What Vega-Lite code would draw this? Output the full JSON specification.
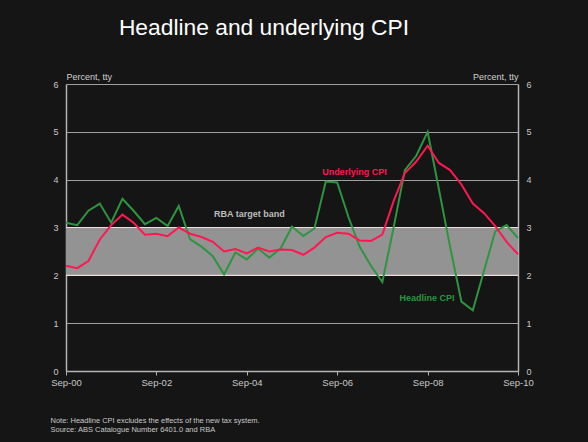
{
  "$schema": "https://vega.github.io/schema/vega-lite/v6.json",
  "autosize": {"type": "none"},
  "width": 452,
  "height": 287,
  "padding": {"left": 66, "top": 84, "right": 70, "bottom": 71},
  "background": "#151515",
  "config": {"view": {"stroke": null}, "font": "Liberation Sans"},
  "title": {"text": "Headline and underlying CPI", "color": "#ffffff", "fontSize": 22.8, "fontWeight": "normal", "font": "Liberation Sans", "anchor": "middle", "dx": -28, "offset": 32},
  "datasets": {
    "cpi": [
      {"d": "2000-09-01", "s": "Headline", "v": 3.1}, {"d": "2000-12-01", "s": "Headline", "v": 3.05},
      {"d": "2001-03-01", "s": "Headline", "v": 3.35}, {"d": "2001-06-01", "s": "Headline", "v": 3.5},
      {"d": "2001-09-01", "s": "Headline", "v": 3.1}, {"d": "2001-12-01", "s": "Headline", "v": 3.6},
      {"d": "2002-03-01", "s": "Headline", "v": 3.35}, {"d": "2002-06-01", "s": "Headline", "v": 3.07},
      {"d": "2002-09-01", "s": "Headline", "v": 3.2}, {"d": "2002-12-01", "s": "Headline", "v": 3.03},
      {"d": "2003-03-01", "s": "Headline", "v": 3.45}, {"d": "2003-06-01", "s": "Headline", "v": 2.75},
      {"d": "2003-09-01", "s": "Headline", "v": 2.6}, {"d": "2003-12-01", "s": "Headline", "v": 2.4},
      {"d": "2004-03-01", "s": "Headline", "v": 2.02}, {"d": "2004-06-01", "s": "Headline", "v": 2.48},
      {"d": "2004-09-01", "s": "Headline", "v": 2.33}, {"d": "2004-12-01", "s": "Headline", "v": 2.56},
      {"d": "2005-03-01", "s": "Headline", "v": 2.37}, {"d": "2005-06-01", "s": "Headline", "v": 2.56},
      {"d": "2005-09-01", "s": "Headline", "v": 3.02}, {"d": "2005-12-01", "s": "Headline", "v": 2.82},
      {"d": "2006-03-01", "s": "Headline", "v": 2.98}, {"d": "2006-06-01", "s": "Headline", "v": 3.96},
      {"d": "2006-09-01", "s": "Headline", "v": 3.94}, {"d": "2006-12-01", "s": "Headline", "v": 3.22},
      {"d": "2007-03-01", "s": "Headline", "v": 2.6}, {"d": "2007-06-01", "s": "Headline", "v": 2.2},
      {"d": "2007-09-01", "s": "Headline", "v": 1.86}, {"d": "2007-12-01", "s": "Headline", "v": 3.0},
      {"d": "2008-03-01", "s": "Headline", "v": 4.2}, {"d": "2008-06-01", "s": "Headline", "v": 4.5},
      {"d": "2008-09-01", "s": "Headline", "v": 5.0}, {"d": "2008-12-01", "s": "Headline", "v": 3.8},
      {"d": "2009-03-01", "s": "Headline", "v": 2.6}, {"d": "2009-06-01", "s": "Headline", "v": 1.45},
      {"d": "2009-09-01", "s": "Headline", "v": 1.27}, {"d": "2009-12-01", "s": "Headline", "v": 2.1},
      {"d": "2010-03-01", "s": "Headline", "v": 2.92}, {"d": "2010-06-01", "s": "Headline", "v": 3.05},
      {"d": "2010-09-01", "s": "Headline", "v": 2.78},
      {"d": "2000-09-01", "s": "Underlying", "v": 2.2}, {"d": "2000-12-01", "s": "Underlying", "v": 2.15},
      {"d": "2001-03-01", "s": "Underlying", "v": 2.3}, {"d": "2001-06-01", "s": "Underlying", "v": 2.75},
      {"d": "2001-09-01", "s": "Underlying", "v": 3.05}, {"d": "2001-12-01", "s": "Underlying", "v": 3.27},
      {"d": "2002-03-01", "s": "Underlying", "v": 3.1}, {"d": "2002-06-01", "s": "Underlying", "v": 2.85},
      {"d": "2002-09-01", "s": "Underlying", "v": 2.87}, {"d": "2002-12-01", "s": "Underlying", "v": 2.82},
      {"d": "2003-03-01", "s": "Underlying", "v": 3.0}, {"d": "2003-06-01", "s": "Underlying", "v": 2.87},
      {"d": "2003-09-01", "s": "Underlying", "v": 2.8}, {"d": "2003-12-01", "s": "Underlying", "v": 2.7},
      {"d": "2004-03-01", "s": "Underlying", "v": 2.5}, {"d": "2004-06-01", "s": "Underlying", "v": 2.55},
      {"d": "2004-09-01", "s": "Underlying", "v": 2.46}, {"d": "2004-12-01", "s": "Underlying", "v": 2.58},
      {"d": "2005-03-01", "s": "Underlying", "v": 2.5}, {"d": "2005-06-01", "s": "Underlying", "v": 2.54},
      {"d": "2005-09-01", "s": "Underlying", "v": 2.53}, {"d": "2005-12-01", "s": "Underlying", "v": 2.43},
      {"d": "2006-03-01", "s": "Underlying", "v": 2.58}, {"d": "2006-06-01", "s": "Underlying", "v": 2.8},
      {"d": "2006-09-01", "s": "Underlying", "v": 2.89}, {"d": "2006-12-01", "s": "Underlying", "v": 2.87},
      {"d": "2007-03-01", "s": "Underlying", "v": 2.73}, {"d": "2007-06-01", "s": "Underlying", "v": 2.72},
      {"d": "2007-09-01", "s": "Underlying", "v": 2.85}, {"d": "2007-12-01", "s": "Underlying", "v": 3.55},
      {"d": "2008-03-01", "s": "Underlying", "v": 4.14}, {"d": "2008-06-01", "s": "Underlying", "v": 4.38},
      {"d": "2008-09-01", "s": "Underlying", "v": 4.71}, {"d": "2008-12-01", "s": "Underlying", "v": 4.35},
      {"d": "2009-03-01", "s": "Underlying", "v": 4.2}, {"d": "2009-06-01", "s": "Underlying", "v": 3.9},
      {"d": "2009-09-01", "s": "Underlying", "v": 3.5}, {"d": "2009-12-01", "s": "Underlying", "v": 3.3},
      {"d": "2010-03-01", "s": "Underlying", "v": 3.03}, {"d": "2010-06-01", "s": "Underlying", "v": 2.7},
      {"d": "2010-09-01", "s": "Underlying", "v": 2.44}
    ],
    "labels": [
      {"d": "2007-01-18", "v": 4.16, "t": "Underlying CPI", "s": "Underlying"},
      {"d": "2008-08-27", "v": 1.53, "t": "Headline CPI", "s": "Headline"},
      {"d": "2004-09-22", "v": 3.28, "t": "RBA target band", "s": "Band"}
    ]
  },
  "layer": [
    {
      "data": {"values": [{"lo": 2, "hi": 3}]},
      "mark": {"type": "rect", "fill": "#939393", "stroke": null},
      "encoding": {
        "y": {"field": "lo", "type": "quantitative", "scale": {"domain": [0, 6], "nice": false},
          "axis": {"orient": "left", "values": [0, 1, 2, 3, 4, 5, 6], "grid": true, "gridColor": "#a0a0a0", "gridWidth": 1, "domain": true, "domainColor": "#b4b4b4", "domainWidth": 1.5, "ticks": false, "labelColor": "#c8c8c8", "labelFontSize": 9, "labelPadding": 8, "title": "Percent, tty", "titleAngle": 0, "titleAlign": "left", "titleBaseline": "alphabetic", "titleX": 0, "titleY": -5, "titleFontSize": 9, "titleFontWeight": "normal", "titleColor": "#d0d0d0"}},
        "y2": {"field": "hi"}
      }
    },
    {
      "data": {"values": [{"edge": 2}, {"edge": 3}]},
      "mark": {"type": "rule", "color": "#efdcdc", "strokeWidth": 1.2},
      "encoding": {
        "y": {"field": "edge", "type": "quantitative", "scale": {"domain": [0, 6], "nice": false},
          "axis": {"orient": "right", "values": [0, 1, 2, 3, 4, 5, 6], "grid": false, "domain": true, "domainColor": "#b4b4b4", "domainWidth": 1.5, "ticks": false, "labelColor": "#c8c8c8", "labelFontSize": 9, "labelPadding": 8, "title": "Percent, tty", "titleAngle": 0, "titleAlign": "right", "titleBaseline": "alphabetic", "titleX": 0, "titleY": -5, "titleFontSize": 9, "titleFontWeight": "normal", "titleColor": "#d0d0d0"}}
      }
    },
    {
      "data": {"name": "cpi"},
      "mark": {"type": "line", "strokeWidth": 2},
      "encoding": {
        "x": {"field": "d", "type": "temporal", "scale": {"type": "utc", "domain": [{"year": 2000, "month": 9, "date": 1, "utc": true}, {"year": 2010, "month": 9, "date": 1, "utc": true}]},
          "axis": {"orient": "bottom", "values": [{"year": 2000, "month": 9, "date": 1, "utc": true}, {"year": 2002, "month": 9, "date": 1, "utc": true}, {"year": 2004, "month": 9, "date": 1, "utc": true}, {"year": 2006, "month": 9, "date": 1, "utc": true}, {"year": 2008, "month": 9, "date": 1, "utc": true}, {"year": 2010, "month": 9, "date": 1, "utc": true}],
            "labelExpr": "utcFormat(datum.value, '%b-%y')", "grid": false, "domain": true, "domainColor": "#b4b4b4", "domainWidth": 1.5, "ticks": true, "tickSize": 4, "tickColor": "#b4b4b4", "labelColor": "#c8c8c8", "labelFontSize": 9.5, "labelPadding": 2, "labelFlush": false,
            "title": ["Note: Headline CPI excludes the effects of the new tax system.", "Source: ABS Catalogue Number 6401.0 and RBA"],
            "titleAnchor": "start", "titleAlign": "left", "titleBaseline": "alphabetic", "titleX": -16, "titleY": 51, "titleFontSize": 7.5, "titleFontWeight": "normal", "titleColor": "#c8c8c8", "titleLineHeight": 9.5}},
        "y": {"field": "v", "type": "quantitative", "scale": {"domain": [0, 6], "nice": false}, "axis": null},
        "color": {"field": "s", "type": "nominal", "scale": {"domain": ["Headline", "Underlying"], "range": ["#2f9440", "#ff1752"]}, "legend": null},
        "order": {"field": "d", "type": "temporal"}
      }
    },
    {
      "data": {"name": "labels"},
      "mark": {"type": "text", "fontWeight": "bold", "fontSize": 9, "align": "center", "baseline": "middle"},
      "encoding": {
        "x": {"field": "d", "type": "temporal", "axis": null},
        "y": {"field": "v", "type": "quantitative", "axis": null},
        "text": {"field": "t"},
        "color": {"field": "s", "type": "nominal", "scale": {"domain": ["Headline", "Underlying", "Band"], "range": ["#2f9440", "#ff1752", "#bdbdbd"]}, "legend": null}
      }
    }
  ],
  "resolve": {"axis": {"x": "independent", "y": "independent"}, "scale": {"color": "independent"}}
}
